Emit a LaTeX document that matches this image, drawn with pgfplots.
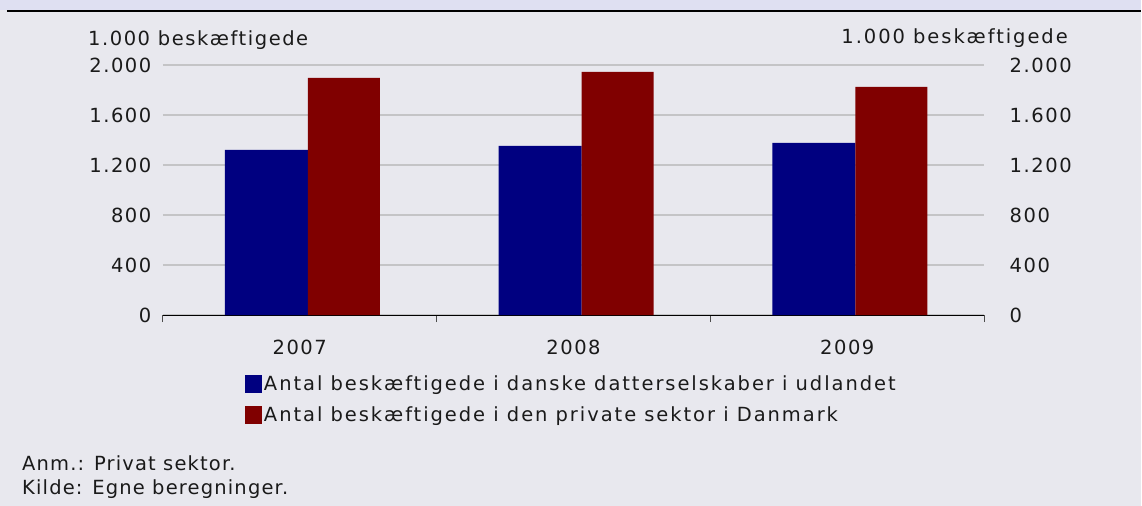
\documentclass[border=0pt]{standalone}
\usepackage{fontspec}
\setmainfont{DejaVu Sans}
\newfontfamily\spaced{DejaVu Sans}[LetterSpace=8]
\newfontfamily\legfont{DejaVu Sans}[LetterSpace=10]
\newfontfamily\notefont{DejaVu Sans}[LetterSpace=6]
\usepackage{pgfplots}
\pgfplotsset{compat=1.18}
\definecolor{bgc}{RGB}{232,232,238}
\definecolor{topc}{RGB}{223,224,242}
\definecolor{gridc}{RGB}{196,196,198}
\definecolor{txt}{RGB}{26,26,26}
\definecolor{navyb}{RGB}{0,0,128}
\definecolor{redb}{RGB}{128,0,0}
\pgfplotsset{sq legend/.style={legend image code/.code={\path[##1,draw=none] (0pt,-9pt) rectangle (17pt,9pt);}}}
\pgfplotstableread{
x navy red
0 1324 1900
1 1356 1948
2 1380 1828
}\datatab
\begin{document}
\begin{tikzpicture}[x=1pt,y=1pt]
\fill[bgc] (0,0) rectangle (1142,506);
\fill[topc] (0,496) rectangle (1142,506);
\draw[black, line width=2pt] (7,495) -- (1142,495);
\begin{axis}[
 at={(163pt,190.5pt)}, anchor=south west,
 scale only axis, width=822pt, height=250pt,
 xmin=-0.5, xmax=2.5, ymin=0, ymax=2000,
 axis x line*=bottom, axis y line*=left,
 y axis line style={draw=none},
 x axis line style={line width=1.2pt, black, -},
 xtick={0,1,2}, xticklabels={2007,2008,2009},
 minor xtick={-0.5,0.5,1.5,2.5},
 ytick={0,400,...,2000},
 major tick length=0pt, minor tick length=7pt,
 tick align=outside,
 minor tick style={line width=1pt, color=black!70},
 ymajorgrids, grid style={line width=2pt, gridc},
 /pgf/number format/.cd, 1000 sep={.}, assume math mode=true, /pgfplots/.cd,
 tick label style={font=\spaced\fontsize{19.5}{22}\selectfont, text=txt},
 yticklabel style={xshift=-8pt},
 xticklabel style={yshift=-21pt},
 legend style={at={(0.0998,-0.235)}, anchor=north west, draw=none, fill=none,
   inner sep=0pt, row sep=10pt, font=\legfont\fontsize{19.5}{22}\selectfont, text=txt,
   nodes={inner sep=2pt}},
 legend cell align=left,
]
\addplot[ybar, bar width=0.303, bar shift=-0.122, fill=navyb, draw=none, sq legend] table[x=x, y=navy] {\datatab};
\addlegendentry{Antal beskæftigede i danske datterselskaber i udlandet}
\addplot[ybar, bar width=0.263, bar shift=0.161, fill=redb, draw=none, sq legend] table[x=x, y=red] {\datatab};
\addlegendentry{Antal beskæftigede i den private sektor i Danmark}
\end{axis}
\begin{axis}[
 at={(163pt,190.5pt)}, anchor=south west,
 scale only axis, width=822pt, height=250pt,
 xmin=-0.5, xmax=2.5, ymin=0, ymax=2000,
 axis x line=none, axis y line*=right,
 y axis line style={draw=none},
 ytick={0,400,...,2000},
 major tick length=0pt,
 /pgf/number format/.cd, 1000 sep={.}, assume math mode=true, /pgfplots/.cd,
 tick label style={font=\spaced\fontsize{19.5}{22}\selectfont, text=txt},
 yticklabel style={xshift=22pt},
]
\addplot[draw=none] coordinates {(0,0)};
\end{axis}
\node[anchor=base west, inner sep=0pt, text=txt, font=\spaced\fontsize{19.5}{22}\selectfont] at (88,460) {1.000 beskæftigede};
\node[anchor=base west, inner sep=0pt, text=txt, font=\legfont\fontsize{19.5}{22}\selectfont] at (842,462) {1.000 beskæftigede};
\node[anchor=base west, inner sep=0pt, text=txt, font=\notefont\fontsize{19.5}{22}\selectfont] at (22,35.3) {Anm.: Privat sektor.};
\node[anchor=base west, inner sep=0pt, text=txt, font=\notefont\fontsize{19.5}{22}\selectfont] at (22,11) {Kilde: Egne beregninger.};
\end{tikzpicture}
\end{document}
